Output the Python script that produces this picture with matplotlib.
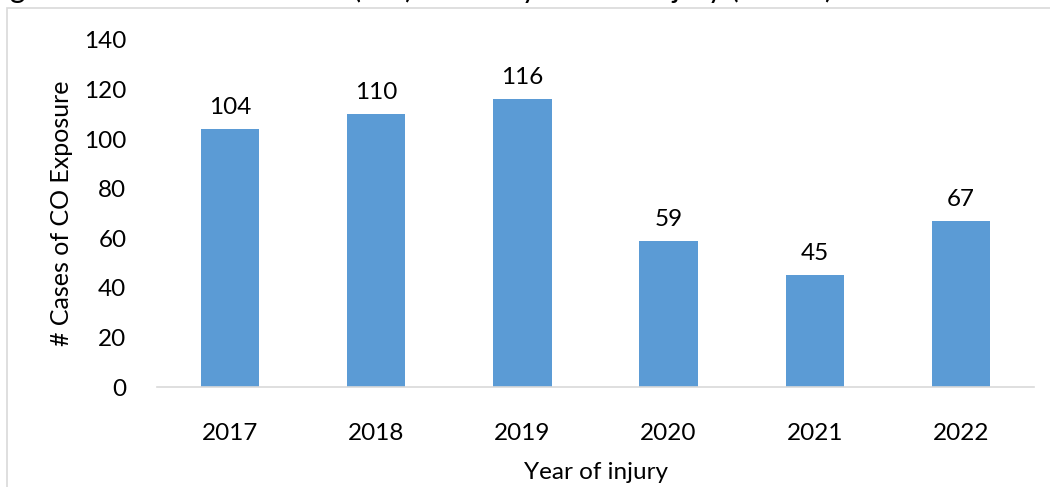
import matplotlib.pyplot as plt
from matplotlib.patches import Rectangle

years = ["2017", "2018", "2019", "2020", "2021", "2022"]
cases = [104, 110, 116, 59, 45, 67]
title = "Figure 1. Carbon Monoxide (CO) Cases by Year of Injury (n=501)"

plt.rcParams["font.family"] = ["Lato", "DejaVu Sans"]

fig = plt.figure(figsize=(10.5, 4.87), dpi=100, facecolor="white")
W, H = 1050, 487

# chart area border (cut off on the right and bottom)
fig.patches.append(Rectangle((7 / W, -0.1), 1.2, 1 - 8 / H + 0.1,
                             transform=fig.transFigure, fill=False,
                             edgecolor="#D9D9D9", linewidth=1.2))
# title, mostly cut off at the top as in the source
fig.text(-14 / W, 1 + 2 / H, title, fontsize=21.5, ha="left", va="baseline")

ax = fig.add_axes([157 / W, 1 - 387 / H, (1034 - 157) / W, (387 - 40) / H])
x = range(len(years))
bars = ax.bar(x, cases, width=0.4, color="#5B9BD5")
for b, v in zip(bars, cases):
    ax.annotate(str(v), (b.get_x() + b.get_width() / 2, v),
                xytext=(0, 8), textcoords="offset points",
                ha="center", va="bottom", fontsize=17.5)

ax.set_xlim(-0.5, len(years) - 0.5)
ax.set_ylim(0, 140)
ax.set_yticks(range(0, 141, 20))
ax.set_xticks(list(x))
ax.set_xticklabels(years)
ax.tick_params(axis="both", length=0, labelsize=17.5)
ax.tick_params(axis="x", pad=26)
ax.tick_params(axis="y", pad=22)
for s in ["top", "right", "left"]:
    ax.spines[s].set_visible(False)
ax.spines["bottom"].set_color("#D9D9D9")
ax.spines["bottom"].set_linewidth(1.2)

ax.set_ylabel("# Cases of CO Exposure", fontsize=18, labelpad=8)
ax.set_xlabel("Year of injury", fontsize=17.5, labelpad=13)

fig.savefig("out.png", dpi=100)
